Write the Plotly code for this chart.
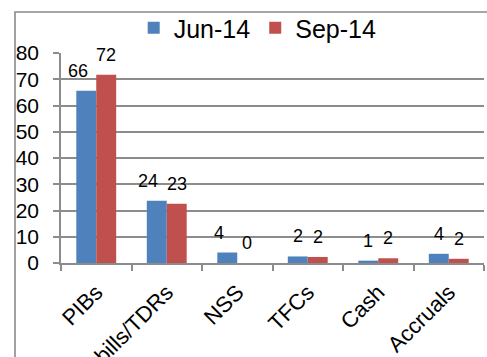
import plotly.graph_objects as go

# Portfolio composition (% of total), quarter-on-quarter
categories = ["PIBs", "T-bills/TDRs", "NSS", "TFCs", "Cash", "Accruals"]
jun_14 = [65.6, 23.7, 4.0, 2.5, 0.9, 3.5]
sep_14 = [71.7, 22.6, 0.0, 2.3, 1.8, 1.6]
series_names = ["Jun-14", "Sep-14"]
y_ticks = [0, 10, 20, 30, 40, 50, 60, 70, 80]

BLUE = "#4F81BD"
RED = "#C0504D"
GRID = "#8C8C8C"
FONT = "Liberation Sans, Arial, sans-serif"

W, H = 487, 357
M = dict(l=61, r=3, t=53, b=94)

fig = go.Figure()
for name, vals, col in [
    (series_names[0], jun_14, BLUE),
    (series_names[1], sep_14, RED),
]:
    fig.add_trace(go.Bar(
        name=name, x=categories, y=vals,
        marker=dict(color=col, line=dict(width=0)),
    ))

# value labels floating above each bar (blue labels for the first three
# groups are nudged left so they clear the neighbouring red label)
px_per_cat = (W - M["l"] - M["r"]) / len(categories)
bar_w = px_per_cat * (1 - 0.434) / 2
blue_nudge = [-8, -9, -8, 0, 0, 0]
for i, cat in enumerate(categories):
    for vals, side, nudge in [(jun_14, -1, blue_nudge[i]), (sep_14, 1, 0)]:
        fig.add_annotation(
            x=cat, y=vals[i], xref="x", yref="y",
            text=f"{vals[i]:.0f}", showarrow=False,
            xshift=side * bar_w / 2 + nudge, yshift=20,
            yanchor="middle", xanchor="center",
            font=dict(family=FONT, size=18, color="#000000"),
        )

# chart-area frame (top and left edges)
plot_w = W - M["l"] - M["r"]
plot_h = H - M["t"] - M["b"]
fx = (15 - M["l"]) / plot_w
fy = (H - M["b"] - 12) / plot_h
fig.add_shape(type="path", xref="paper", yref="paper",
              path=f"M {fx},-2 L {fx},{fy} L 1.5,{fy}",
              line=dict(color="#8A8A8A", width=1.6))

fig.update_layout(
    width=W, height=H, margin=M,
    paper_bgcolor="white", plot_bgcolor="white",
    barmode="group", bargap=0.434, bargroupgap=0,
    font=dict(family=FONT, color="#000000"),
    showlegend=True,
    legend=dict(orientation="h", x=0.465, xanchor="center",
                y=(H - M["b"] - 28) / plot_h, yanchor="middle",
                font=dict(family=FONT, size=25), itemwidth=30,
                bgcolor="rgba(0,0,0,0)", traceorder="normal"),
    xaxis=dict(
        type="category", tickangle=-45, tickson="boundaries",
        ticks="outside", ticklen=6, tickcolor=GRID, tickwidth=1.5,
        showline=True, linecolor=GRID, linewidth=1.5,
        showgrid=False, automargin=False, ticklabelstandoff=6,
        tickfont=dict(family=FONT, size=22),
    ),
    yaxis=dict(
        range=[0, 80], tickvals=y_ticks, ticktext=[str(v) for v in y_ticks],
        ticks="outside", ticklen=6, tickcolor=GRID, tickwidth=1.5,
        showline=True, linecolor=GRID, linewidth=1.5,
        showgrid=True, gridcolor=GRID, gridwidth=1.5,
        zeroline=False, automargin=False, ticklabelstandoff=10,
        tickfont=dict(family=FONT, size=21),
    ),
)

fig.write_html("out.html")
